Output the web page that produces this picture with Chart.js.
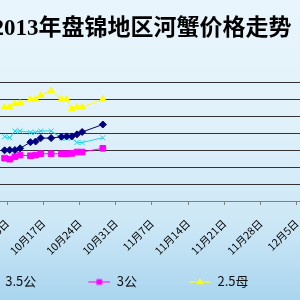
<!DOCTYPE html>
<html><head><meta charset="utf-8">
<script src="https://cdn.jsdelivr.net/npm/chart.js@4.4.1/dist/chart.umd.min.js"></script>
<style>
html,body{margin:0;padding:0;width:300px;height:300px;overflow:hidden;}
body{position:relative;background:linear-gradient(to bottom,#e9f5fc 0%,#e1f1fa 40%,#cce7f6 75%,#a9d5ef 100%);}
#c{position:absolute;left:-98px;top:0;}
</style></head><body>
<canvas id="c" width="480" height="300"></canvas>
<script>
// ---- data ----
const titleText = '2013年盘锦地区河蟹价格走势';
const dates = ['10-09','10-10','10-11','10-12','10-14','10-15','10-16','10-18','10-20','10-21','10-22','10-23','10-24','10-28'];
const seriesNames = ['3.5公','3公','2.5母','2母'];
const gong35 = [14.9, 15.0, 15.0, 15.5, 17.3, 17.5, 18.5, 18.5, 18.9, 19.0, 19.0, 19.6, 20.3, 22.5];
const gong3  = [12.6, 12.3, 13.0, 13.5, 13.3, 13.5, 13.9, 13.9, 13.9, 13.9, 14.0, 14.4, 14.4, 15.5];
const mu25   = [27.6, 27.6, 28.6, 28.7, 29.9, 29.9, 31.0, 32.4, 29.9, 29.9, 27.1, 27.6, 27.6, 29.9];
const mu2    = [18.9, 18.6, 20.6, 20.6, 20.2, 20.2, 20.6, 20.6, 18.5, 18.5, 18.5, 17.2, 17.2, 18.6];
const tickDates = ['10-03','10-10','10-17','10-24','10-31','11-07','11-14','11-21','11-28','12-05','12-12','12-19'];
const yMin = 0, yMax = 35, yStep = 5;

function dayNum(s){ const [m,d] = s.split('-').map(Number); return (m===10?0:m===11?31:61) + d; }
function dayLabel(n){ n = Math.round(n); let m=10,d=n; if(n>61){m=12;d=n-61;} else if(n>31){m=11;d=n-31;} return m+'月'+d+'日'; }

const CANVAS_W = 480, OFFSET_X = 98, PX_PER_DAY = 36.96/7, ANCHOR_U = 9.5, ANCHOR_PX = 4.3;
const xMin = ANCHOR_U + (-OFFSET_X - ANCHOR_PX)/PX_PER_DAY;
const xMax = ANCHOR_U + (CANVAS_W - OFFSET_X - ANCHOR_PX)/PX_PER_DAY;

const styles = [
  {color:'#000080', shape:'rectRot', r:3.5},
  {color:'#FF00FF', shape:'rect', r:4},
  {color:'#FFFF00', shape:'triangle', r:3.8},
  {color:'#22d3e6', shape:'crossRot', r:3.5}
];
const values = [gong35, gong3, mu25, mu2];

function drawMarker(ctx, shape, x, y, r, color){
  ctx.fillStyle = color; ctx.strokeStyle = color; ctx.lineWidth = 1;
  ctx.beginPath();
  if(shape==='rectRot'){ ctx.moveTo(x, y-r); ctx.lineTo(x+r, y); ctx.lineTo(x, y+r); ctx.lineTo(x-r, y); ctx.closePath(); ctx.fill(); }
  else if(shape==='rect'){ const s=r*Math.SQRT1_2; ctx.rect(x-s, y-s, 2*s, 2*s); ctx.fill(); }
  else if(shape==='triangle'){ ctx.moveTo(x, y-r); ctx.lineTo(x+r*0.9, y+r*0.6); ctx.lineTo(x-r*0.9, y+r*0.6); ctx.closePath(); ctx.fill(); }
  else { const s=r*Math.SQRT1_2; ctx.moveTo(x-s,y-s); ctx.lineTo(x+s,y+s); ctx.moveTo(x+s,y-s); ctx.lineTo(x-s,y+s); ctx.stroke(); }
}
const ICON_W = 64, ICON_GAP = 42;
const icons = styles.map(st => {
  const c = document.createElement('canvas'); c.width = ICON_W; c.height = 12;
  const ctx = c.getContext('2d');
  ctx.strokeStyle = st.color; ctx.lineWidth = 1;
  ctx.beginPath(); ctx.moveTo(ICON_GAP, 6.5); ctx.lineTo(ICON_W, 6.5); ctx.stroke();
  drawMarker(ctx, st.shape, ICON_GAP + 11, 6.5, st.r, st.color);
  return c;
});

const datasets = seriesNames.map((name, i) => ({
  label: name,
  data: dates.map((d, k) => ({x: dayNum(d), y: values[i][k]})),
  borderColor: styles[i].color, backgroundColor: styles[i].color,
  pointStyle: styles[i].shape, pointRadius: styles[i].r, pointBorderWidth: 1,
  borderWidth: 1, tension: 0
}));

const cjk = '"Noto Sans CJK SC", sans-serif';
new Chart(document.getElementById('c'), {
  type: 'line',
  data: { datasets },
  options: {
    responsive: false, animation: false, devicePixelRatio: 1,
    layout: { padding: {top:0, bottom:2, left:0, right:0} },
    plugins: {
      tooltip: {enabled:false},
      title: { display: true, text: titleText, color: '#000',
        font: {size: 23, weight: 'bold', family: '"Liberation Serif", "Noto Sans CJK SC", serif'},
        padding: {top: 15.5, bottom: 38.9} },
      legend: { position: 'bottom', align: 'center',
        labels: { usePointStyle: true, pointStyleWidth: ICON_W, boxHeight: 12, padding: 10,
          color: '#111', font: {size: 13, family: cjk},
          generateLabels: (chart) => Chart.defaults.plugins.legend.labels.generateLabels(chart)
              .map(it => Object.assign(it, {pointStyle: icons[it.datasetIndex]})) } }
    },
    scales: {
      x: { type: 'linear', min: xMin, max: xMax,
        afterBuildTicks: (s) => { s.ticks = tickDates.map(t => ({value: dayNum(t) - 0.5})); },
        afterFit: (s) => { s.height = 64; s.paddingLeft = 0; s.paddingRight = 0; },
        ticks: { autoSkip: false, minRotation: 45, maxRotation: 45, padding: 12, labelOffset: 0, color: '#000',
          font: {size: 10.5, family: cjk}, callback: (v) => dayLabel(v + 0.5) },
        grid: { display: true, drawOnChartArea: false, drawTicks: true, tickLength: 4, color: '#808080' },
        border: { display: true, color: '#808080', width: 1 } },
      y: { min: yMin, max: yMax,
        afterFit: (s) => { s.width = 0; },
        ticks: { display: false, stepSize: yStep },
        grid: { drawTicks: false, color: (c) => c.tick && c.tick.value === 0 ? 'rgba(0,0,0,0)' : '#333', lineWidth: 1 },
        border: { display: false } }
    }
  }
});
</script>
</body></html>
